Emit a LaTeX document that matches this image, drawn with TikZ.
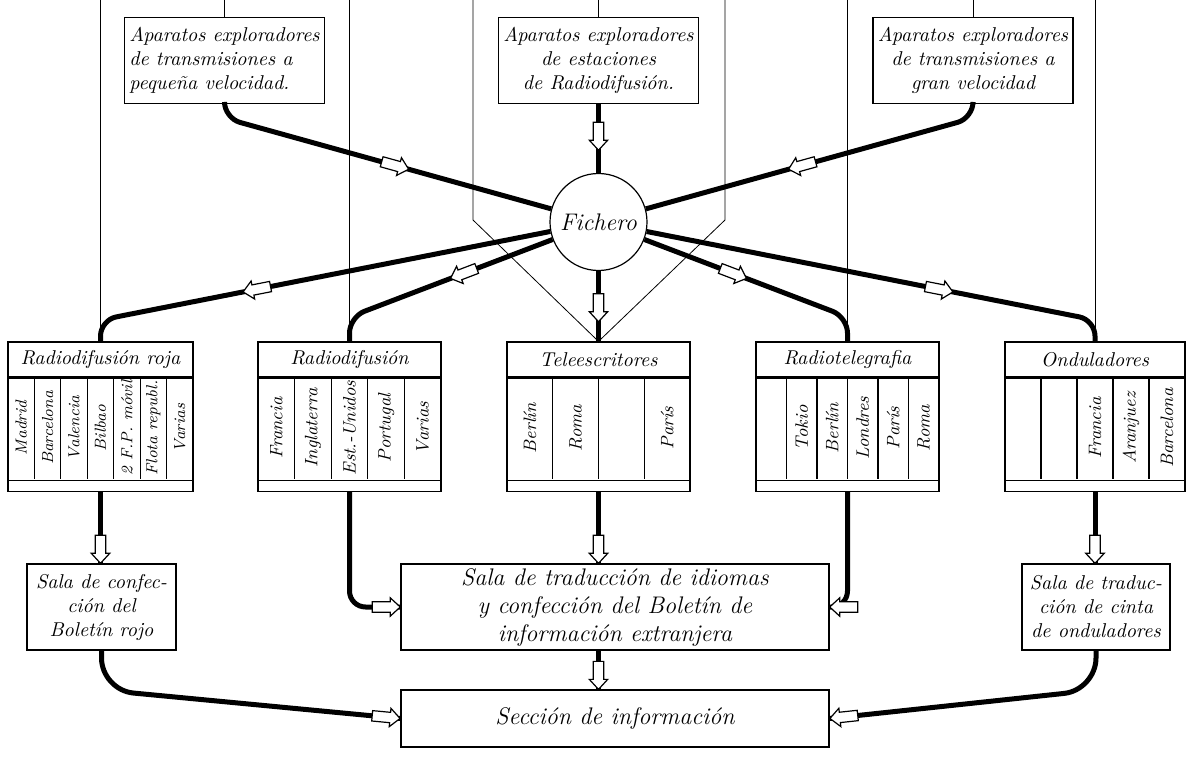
\documentclass[tikz,border=0pt]{standalone}
\usetikzlibrary{positioning,decorations.markings}

\newcommand{\hollowtip}{%
  \draw[sharp corners, fill=white, line width=0.6pt, line join=miter]
    (-14pt,-2.6pt) -- (-5pt,-2.6pt) -- (-5pt,-4.6pt) -- (0pt,0pt)
    -- (-5pt,4.6pt) -- (-5pt,2.6pt) -- (-14pt,2.6pt) -- cycle;}

\begin{document}
\begin{tikzpicture}[
  x=0.5pt, y=-0.5pt,
  font=\itshape,
  guide/.style={line width=0.4pt},
  box/.style={draw, line width=0.6pt, inner sep=0pt},
  note/.style={box, align=center, minimum height=43pt},
  head/.style={box, minimum height=17.5pt},
  body/.style={box, minimum height=56.5pt},
  city/.style={rotate=90, inner sep=0pt, font=\itshape\small},
  flow/.style={line width=2.5pt, rounded corners=8pt},
  midarrow/.style={postaction={decorate, decoration={markings,
    mark=at position #1 with {\hollowtip}}}},
  endarrow/.style={midarrow=0.999}
]
\path[use as bounding box] (0,0) rectangle (1189,775);
\coordinate (top) at (0,0);

% scanning equipment
\node[note, minimum width=100pt, align=left] (slow) at (224.5,60.5)
  {Aparatos exploradores\\de transmisiones a\\pequeña velocidad.};
\node[note, minimum width=100pt] (broad) at (598.5,60.5)
  {Aparatos exploradores\\de estaciones\\de Radiodifusión.};
\node[note, minimum width=100pt] (fast) at (973,60.5)
  {Aparatos exploradores\\de transmisiones a\\gran velocidad};

\node[box, circle, minimum size=48.5pt, font=\itshape\large] (fich) at (598.5,222) {Fichero};

% receiving columns
\node[head, minimum width=92.5pt] (roja) at (100.5,359.5) {Radiodifusión roja};
\node[body, minimum width=92.5pt, below=0pt of roja] (rojab) {};
\draw[box] (rojab.south west) ++(0,-11) -- ++(185,0);
\foreach \i in {1,...,6} \draw[box] ({8+26.43*\i},377) -- ++(0,102);
\foreach \c [count=\i] in {Madrid,Barcelona,Valencia,Bilbao,2 F.P. móvil,Flota republ.,Varias}
  \node[city, font=\itshape\footnotesize] at ({8+26.43*(\i-0.5)},428) {\c};

\node[head, minimum width=91.5pt] (dif) at (349.5,359.5) {Radiodifusión};
\node[body, minimum width=91.5pt, below=0pt of dif] (difb) {};
\draw[box] (difb.south west) ++(0,-11) -- ++(183,0);
\foreach \i in {1,...,4} \draw[box] ({258+36.6*\i},377) -- ++(0,102);
\foreach \c [count=\i] in {Francia,Inglaterra,Est.-Unidos,Portugal,Varias}
  \node[city] at ({258+36.6*(\i-0.5)},428) {\c};

\node[head, minimum width=91.5pt] (tele) at (598.5,359.5) {Teleescritores};
\node[body, minimum width=91.5pt, below=0pt of tele] (teleb) {};
\draw[box] (teleb.south west) ++(0,-11) -- ++(183,0);
\foreach \i in {1,...,3} \draw[box] ({507+45.75*\i},377) -- ++(0,102);
\foreach \c [count=\i] in {Berlín,Roma,{},París}
  \node[city] at ({507+45.75*(\i-0.5)},428) {\c};

\node[head, minimum width=91.5pt] (teleg) at (847.5,359.5) {Radiotelegrafia};
\node[body, minimum width=91.5pt, below=0pt of teleg] (telegb) {};
\draw[box] (telegb.south west) ++(0,-11) -- ++(183,0);
\foreach \i in {1,...,5} \draw[box] ({756+30.5*\i},377) -- ++(0,102);
\foreach \c [count=\i] in {{},Tokio,Berlín,Londres,París,Roma}
  \node[city] at ({756+30.5*(\i-0.5)},428) {\c};

\node[head, minimum width=90pt] (ond) at (1095,359.5) {Onduladores};
\node[body, minimum width=90pt, below=0pt of ond] (ondb) {};
\draw[box] (ondb.south west) ++(0,-11) -- ++(180,0);
\foreach \i in {1,...,4} \draw[box] ({1005+36*\i},377) -- ++(0,102);
\foreach \c [count=\i] in {{},{},Francia,Aranjuez,Barcelona}
  \node[city] at ({1005+36*(\i-0.5)},428) {\c};

% rooms
\node[note, minimum width=74.5pt] (salaroja) at (101.5,607)
  {Sala de confec-\\ción del\\Boletín rojo};
\node[note, minimum width=214pt, font=\itshape\large] (salaidiom) at (615,607)
  {Sala de traducción de idiomas\\y confección del Boletín de\\información extranjera};
\node[note, minimum width=74pt] (salacinta) at (1096,607)
  {Sala de traduc-\\ción de cinta\\de onduladores};
\node[note, minimum width=214pt, minimum height=28.5pt, font=\itshape\large] (seccion) at (615,718.5)
  {Sección de información};

% thin frame lines
\draw[guide] (slow.north) -- (slow.north |- top);
\draw[guide] (broad.north) -- (broad.north |- top);
\draw[guide] (fast.north) -- (fast.north |- top);
\draw[guide] (roja.north) -- (roja.north |- top);
\draw[guide] (dif.north) -- (dif.north |- top);
\draw[guide] (teleg.north) -- (teleg.north |- top);
\draw[guide] (ond.north) -- (ond.north |- top);
\coordinate (vl) at (473,220);
\coordinate (vr) at (725,220);
\draw[guide] (top -| vl) -- (vl) -- (tele.north) -- (vr) -- (top -| vr);

% flow of material
\draw[flow, midarrow=0.58] (slow.south) -- ++(0,14) -- (fich);
\draw[flow, midarrow=0.67] (broad) -- (fich);
\draw[flow, midarrow=0.58] (fast.south) -- ++(0,14) -- (fich);
\draw[flow, midarrow=0.66] (fich) -- (roja.north |- 0,320) -- (roja.north);
\draw[flow, midarrow=0.46] (fich) -- (dif.north |- 0,317) -- (dif.north);
\draw[flow, midarrow=0.72] (fich) -- (tele);
\draw[flow, midarrow=0.46] (fich) -- (teleg.north |- 0,317) -- (teleg.north);
\draw[flow, midarrow=0.66] (fich) -- (ond.north |- 0,320) -- (ond.north);

\draw[flow, endarrow] (rojab.south) -- (rojab.south |- salaroja.north);
\draw[flow, endarrow] (difb.south) |- (salaidiom.west);
\draw[flow, endarrow] (teleb.south) -- (teleb.south |- salaidiom.north);
\draw[flow, endarrow] (telegb.south) |- (salaidiom.east);
\draw[flow, endarrow] (ondb.south) -- (ondb.south |- salacinta.north);

\draw[flow, rounded corners=16pt, endarrow] (salaroja.south) -- (salaroja.south |- 0,690) -- (seccion.west);
\draw[flow, endarrow] (teleb.south |- salaidiom.south) -- (teleb.south |- seccion.north);
\draw[flow, rounded corners=16pt, endarrow] (salacinta.south) -- (salacinta.south |- 0,690) -- (seccion.east);
\end{tikzpicture}
\end{document}
